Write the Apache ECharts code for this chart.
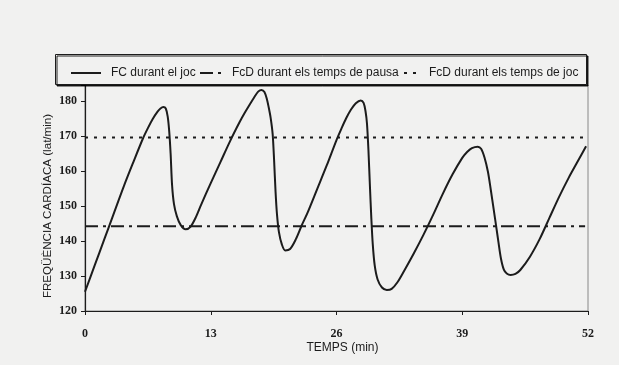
<!DOCTYPE html>
<html><head><meta charset="utf-8">
<script src="https://cdn.jsdelivr.net/npm/echarts@6/dist/echarts.min.js"></script>
<style>html,body{margin:0;padding:0;background:#f1f1f0;}#c{width:619px;height:365px;}</style>
</head><body><div id="c"></div>
<script>
var timeMin = [0,1,2,3,4,5,6,6.5,7,7.5,7.8,8.1,8.35,8.55,8.7,8.85,9.0,9.2,9.5,9.9,10.4,10.9,11.5,12,13,14,15,16,16.5,17,17.5,17.9,18.25,18.55,18.8,19.0,19.2,19.4,19.55,19.7,19.85,20.05,20.35,20.7,21.2,21.8,22.4,23,24,25,26,26.5,27,27.5,28,28.5,28.8,29.0,29.15,29.3,29.45,29.6,29.75,29.95,30.25,30.7,31.2,31.7,32.3,33,34,35,36,37,38,39,39.5,40,40.6,40.95,41.3,41.65,41.95,42.25,42.5,42.75,43.0,43.3,43.6,44.0,44.5,45,46,47,48,49,50,51,51.8];
var fcJoc = [125.5,133,140.5,148,155.5,162.5,169.3,172.2,174.8,176.9,177.8,178.2,177.8,175.5,171.5,165,156,150.5,147,144.5,143.3,144,147,150.3,156.5,162.5,168.5,174,176.5,178.8,181,182.6,183.1,182.5,180.5,178,175,170.5,163,154,147.5,142.5,139,137.3,137.7,140.5,144.4,148,154.8,161.6,168.8,172,175,177.5,179.3,180.1,179.4,177,173.5,166,156,146.5,139,133,129,126.7,126,126.3,128.2,131.5,136.5,141.8,147.5,153.5,159,163.7,165.4,166.5,166.9,166.3,163.8,159.8,154.6,149,144.3,139.5,135,131.8,130.7,130.3,130.6,131.7,135.5,140.5,146.5,152.5,158,163,167];
var fcdPausa = 144.2;
var fcdJoc = 169.5;
var xRange = [0, 51.7];
var names = ['FC durant el joc', 'FcD durant els temps de pausa', 'FcD durant els temps de joc'];

var chart = echarts.init(document.getElementById('c'));
var ink = '#1c1c1c';
var legendBase = {
  top: 67, itemHeight: 8, z: 20, padding: 0,
  itemStyle: {opacity: 0},
  textStyle: {fontFamily: 'Liberation Sans', fontSize: 12, color: ink, padding: [0,0,0,5]}
};
chart.setOption({
  backgroundColor: '#f1f1f0',
  animation: false,
  grid: {left: 85, right: 31, top: 85, bottom: 54, show: true, borderColor: '#888', borderWidth: 1, backgroundColor: 'transparent'},
  legend: [
    Object.assign({}, legendBase, {data: [names[0]], left: 70, itemWidth: 30}),
    Object.assign({}, legendBase, {data: [names[1]], left: 199, itemWidth: 22}),
    Object.assign({}, legendBase, {data: [names[2]], left: 403, itemWidth: 15})
  ],
  graphic: [{
    type: 'rect', z: 10, left: 55, top: 54,
    shape: {x: 0, y: 0, width: 531, height: 30},
    style: {fill: '#f1f1f0', stroke: ink, lineWidth: 1, shadowColor: 'rgba(0,0,0,0.85)', shadowOffsetX: 1.5, shadowOffsetY: 1.5, shadowBlur: 0}
  }],
  xAxis: {
    type: 'value', min: 0, max: 52, interval: 13,
    name: 'TEMPS (min)', nameLocation: 'middle', nameGap: 31, nameMoveOverlap: false,
    nameTextStyle: {fontFamily: 'Liberation Sans', fontSize: 12, color: ink, padding: [0,0,0,12]},
    axisLine: {lineStyle: {color: ink, width: 1.2}},
    axisTick: {show: true, length: 4, lineStyle: {color: ink}},
    axisLabel: {fontFamily: 'Liberation Serif', fontWeight: 'bold', fontSize: 12, color: ink, margin: 17},
    splitLine: {show: false}
  },
  yAxis: {
    type: 'value', min: 120, max: 184.5, interval: 10,
    name: 'FREQÜÈNCIA CARDÍACA (lat/min)', nameLocation: 'middle', nameGap: 31, nameMoveOverlap: false,
    nameTextStyle: {fontFamily: 'Liberation Sans', fontSize: 11.6, color: ink, padding: [0,16,0,0]},
    axisLine: {show: true, lineStyle: {color: ink, width: 1.2}},
    axisTick: {show: true, length: 4, lineStyle: {color: ink}},
    axisLabel: {fontFamily: 'Liberation Serif', fontWeight: 'bold', fontSize: 12, color: ink, margin: 8,
      formatter: function (v) { return v % 10 === 0 ? String(v) : ''; }},
    splitLine: {show: false}
  },
  series: [
    {name: names[0], type: 'line', smooth: 0.3, symbol: 'none',
     data: timeMin.map(function (t, i) { return [t, fcJoc[i]]; }),
     lineStyle: {color: ink, width: 2}, itemStyle: {color: ink}, z: 3},
    {name: names[1], type: 'line', symbol: 'none',
     data: xRange.map(function (t) { return [t, fcdPausa]; }),
     lineStyle: {color: ink, width: 2, type: [13, 5, 3, 5]}, itemStyle: {color: ink}, z: 2},
    {name: names[2], type: 'line', symbol: 'none',
     data: xRange.map(function (t) { return [t, fcdJoc]; }),
     lineStyle: {color: ink, width: 2, type: [3, 6]}, itemStyle: {color: ink}, z: 2}
  ]
});
</script></body></html>
